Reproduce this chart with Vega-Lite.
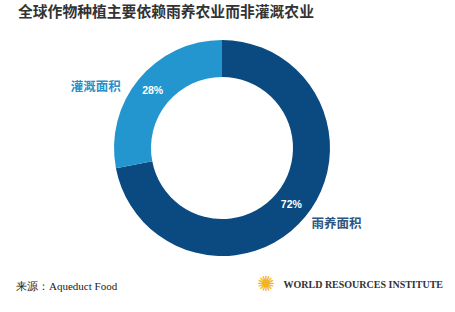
{
  "$schema": "https://vega.github.io/schema/vega-lite/v6.json",
  "background": "white",
  "padding": {"left": 16, "top": 5, "right": 0, "bottom": 0},
  "title": {
    "text": "全球作物种植主要依赖雨养农业而非灌溉农业",
    "anchor": "start",
    "dx": 2,
    "offset": 10,
    "font": "Noto Sans CJK SC",
    "fontSize": 14.8,
    "fontWeight": "bold",
    "color": "#333333"
  },
  "config": {"view": {"stroke": null}},
  "spacing": 0,
  "vconcat": [
    {
      "width": 412,
      "height": 236,
      "data": {"values": [
        {"name": "雨养面积", "value": 72, "pct": "72%"},
        {"name": "灌溉面积", "value": 28, "pct": "28%"}
      ]},
      "encoding": {
        "theta": {"field": "value", "type": "quantitative", "stack": true},
        "order": {"field": "value", "type": "quantitative", "sort": "descending"}
      },
      "layer": [
        {
          "mark": {"type": "arc", "outerRadius": 108, "innerRadius": 71},
          "encoding": {
            "color": {"field": "name", "type": "nominal",
              "scale": {"domain": ["雨养面积", "灌溉面积"], "range": ["#0b4a80", "#2396d0"]},
              "legend": null}
          }
        },
        {
          "mark": {"type": "text", "radius": 90, "font": "Liberation Sans", "fontSize": 10.5, "fontWeight": "bold", "color": "white"},
          "encoding": {"text": {"field": "pct", "type": "nominal"}}
        },
        {
          "mark": {"type": "text", "radius": 125, "dx": -30, "dy": 19, "font": "Noto Sans CJK SC", "fontSize": 12.5, "fontWeight": "bold", "color": "#2a90c8"},
          "encoding": {"text": {"condition": {"test": "datum.name == '灌溉面积'", "field": "name", "type": "nominal"}, "value": ""}}
        },
        {
          "mark": {"type": "text", "radius": 137, "dx": 9, "dy": -11, "font": "Noto Sans CJK SC", "fontSize": 12.5, "fontWeight": "bold", "color": "#2c5680"},
          "encoding": {"text": {"condition": {"test": "datum.name == '雨养面积'", "field": "name", "type": "nominal"}, "value": ""}}
        }
      ]
    },
    {
      "width": 427,
      "height": 42,
      "layer": [
        {
          "data": {"values": [{"label": "来源：Aqueduct Food", "side": "left"}]},
          "mark": {"type": "text", "align": "left", "baseline": "middle", "font": "Liberation Serif", "fontSize": 11, "color": "#222222"},
          "encoding": {
            "x": {"field": "side", "type": "nominal", "scale": {"domain": ["left", "right"], "range": [0, 427], "padding": 0}, "axis": null},
            "text": {"field": "label", "type": "nominal"}
          }
        },
        {
          "data": {"values": [{"label": "WORLD RESOURCES INSTITUTE", "side": "right"}]},
          "mark": {"type": "text", "align": "right", "baseline": "middle", "dy": -2, "font": "Liberation Serif", "fontSize": 10, "fontWeight": "bold", "color": "#333333"},
          "encoding": {
            "x": {"field": "side", "type": "nominal", "scale": {"domain": ["left", "right"], "range": [0, 427], "padding": 0}, "axis": null},
            "text": {"field": "label", "type": "nominal"}
          }
        },
        {
          "data": {"values": [{"label": "✺", "side": "right"}]},
          "mark": {"type": "text", "align": "center", "baseline": "middle", "dx": -177, "dy": -2, "font": "DejaVu Sans", "fontSize": 21, "color": "#f2b420"},
          "encoding": {
            "x": {"field": "side", "type": "nominal", "scale": {"domain": ["left", "right"], "range": [0, 427], "padding": 0}, "axis": null},
            "text": {"field": "label", "type": "nominal"}
          }
        }
      ]
    }
  ]
}
